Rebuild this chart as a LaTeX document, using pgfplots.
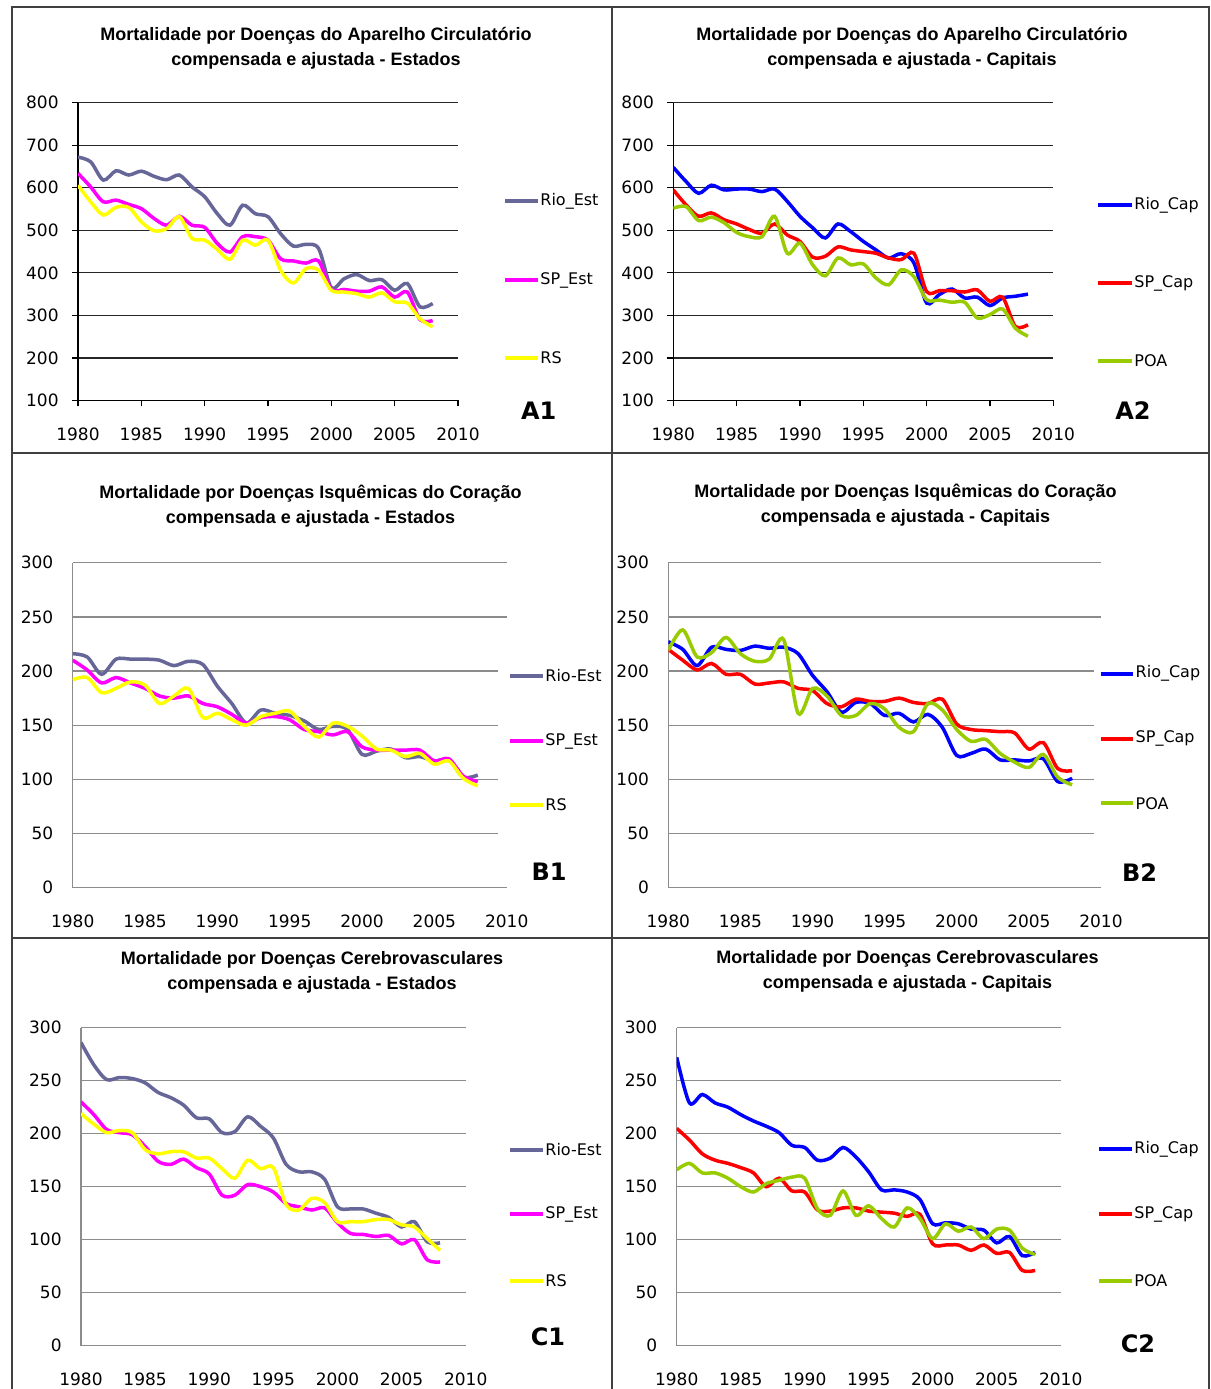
\documentclass[border=0pt]{standalone}
\usepackage{fontspec}
\setmainfont{DejaVu Sans}
\newfontfamily\titlefont{Liberation Sans}
\usepackage{pgfplots}
\usepackage{pgfplotstable}
\pgfplotsset{compat=1.18}

\definecolor{rioest}{RGB}{102,102,153}
\definecolor{spest}{RGB}{255,0,255}
\definecolor{rsyel}{RGB}{255,255,0}
\definecolor{riocap}{RGB}{0,0,255}
\definecolor{spcap}{RGB}{255,0,0}
\definecolor{poa}{RGB}{153,204,0}
\definecolor{frame}{RGB}{64,64,64}
\definecolor{gridB}{RGB}{140,140,140}

% year, Rio, SP, RS/POA
\pgfplotstableread{
year a b c
1980 672 634 606
1981 661 602 567
1982 618 567 536
1983 640 571 554
1984 630 561 554
1985 639 551 520
1986 627 528 499
1987 619 512 504
1988 630 533 532
1989 602 512 481
1990 579 507 477
1991 539 469 455
1992 512 449 432
1993 559 485 477
1994 539 485 465
1995 532 477 477
1996 492 433 406
1997 463 428 376
1998 467 423 410
1999 457 428 406
2000 365 361 359
2001 386 361 355
2002 396 357 351
2003 382 357 343
2004 384 367 353
2005 359 343 332
2006 375 355 329
2007 320 290 292
2008 328 288 273
}\dataAone

\pgfplotstableread{
year a b c
1980 648 595 552
1981 615 560 556
1982 587 533 523
1983 606 541 531
1984 595 525 518
1985 597 515 495
1986 597 502 485
1987 591 493 485
1988 597 515 533
1989 568 489 446
1990 533 474 470
1991 506 437 419
1992 482 439 393
1993 515 461 435
1994 497 454 419
1995 474 450 421
1996 454 446 388
1997 435 435 372
1998 445 431 407
1999 423 446 391
2000 329 356 337
2001 349 358 336
2002 362 358 331
2003 341 355 331
2004 343 360 294
2005 323 333 302
2006 341 343 315
2007 345 274 270
2008 350 278 251
}\dataAtwo

\pgfplotstableread{
year a b c
1980 216 210 192
1981 213 201 194
1982 197 189 180
1983 211 194 184
1984 211 189 190
1985 211 184 187
1986 210 177 170
1987 205 175 177
1988 209 177 184
1989 206 170 157
1990 186 167 161
1991 170 160 155
1992 152 152 150
1993 164 157 158
1994 161 158 161
1995 159 155 163
1996 154 146 149
1997 146 144 139
1998 149 141 152
1999 146 144 149
2000 123 130 140
2001 126 127 128
2002 128 127 127
2003 120 127 121
2004 121 127 124
2005 117 117 114
2006 118 119 117
2007 102 103 101
2008 104 98 94
}\dataBone

\pgfplotstableread{
year a b c
1980 227 220 219
1981 220 210 238
1982 205 201 213
1983 222 207 217
1984 220 197 231
1985 219 197 216
1986 223 188 209
1987 221 189 211
1988 222 190 229
1989 216 184 161
1990 196 182 184
1991 181 170 177
1992 162 167 159
1993 171 174 159
1994 170 172 170
1995 159 172 165
1996 161 175 148
1997 153 171 144
1998 160 170 170
1999 148 174 164
2000 122 151 146
2001 124 146 135
2002 128 145 137
2003 118 144 124
2004 118 143 116
2005 117 128 111
2006 119 134 123
2007 98 110 102
2008 101 108 95
}\dataBtwo

\pgfplotstableread{
year a b c
1980 286 230 219
1981 265 218 209
1982 251 204 201
1983 253 201 203
1984 252 199 201
1985 248 188 185
1986 239 174 181
1987 234 171 183
1988 227 176 183
1989 215 168 177
1990 214 162 177
1991 201 142 167
1992 202 142 158
1993 216 152 175
1994 207 150 167
1995 196 145 168
1996 171 134 133
1997 164 131 128
1998 164 128 139
1999 157 130 135
2000 131 116 117
2001 129 106 117
2002 129 105 117
2003 125 103 119
2004 121 104 119
2005 112 96 114
2006 117 100 112
2007 98 81 101
2008 97 79 90
}\dataCone

\pgfplotstableread{
year a b c
1980 272 205 166
1981 229 194 172
1982 237 181 163
1983 229 175 163
1984 225 172 158
1985 218 168 150
1986 212 163 145
1987 207 150 153
1988 201 158 156
1989 189 146 159
1990 187 145 158
1991 175 128 129
1992 177 127 123
1993 187 130 146
1994 178 130 123
1995 164 127 132
1996 147 126 120
1997 147 125 112
1998 145 122 130
1999 138 124 120
2000 115 96 101
2001 116 95 115
2002 115 95 108
2003 110 90 112
2004 109 95 101
2005 97 87 110
2006 103 88 109
2007 85 71 92
2008 88 71 86
}\dataCtwo

\pgfplotsset{
  panel/.style={
    scale only axis,
    axis x line*=bottom, axis y line*=left,
    xmin=1980, xmax=2010, xtick={1980,1985,...,2010},
    ymajorgrids,
    tick label style={font=\fontsize{8.5}{10}\selectfont,
      /pgf/number format/1000 sep=,
      /pgf/number format/assume math mode=true},
    x tick label style={anchor=north, inner sep=0pt, yshift=-13.5pt},
    y tick label style={anchor=east, inner sep=0pt, xshift=-9.5pt},
    every axis plot/.append style={line width=1.75pt, smooth, no markers},
  },
  panelA/.style={panel,
    width=190pt, height=148.9pt, ymin=100, ymax=800, ytick={100,200,...,800},
    axis line style={black, line width=0.6pt},
    major grid style={black!85, line width=0.6pt},
    tick align=outside, major tick length=3pt, tick style={black, line width=0.6pt},
    x tick label style={yshift=3pt},
    y tick label style={xshift=3pt},
  },
  panelBC/.style={panel,
    ymin=0, ymax=300, ytick={0,50,...,300},
    axis line style={gridB, line width=0.7pt},
    major grid style={gridB, line width=0.7pt},
    major tick length=0pt,
  },
}

\newcommand{\paneltitle}[4]{% x, y, line1, line2
  \node[align=center, font=\titlefont\bfseries\fontsize{9}{12.5}\selectfont] at (#1,#2) {#3\\#4};}
\newcommand{\legentry}[5]{% x0, x1, y, colour, text
  \draw[#4, line width=1.9pt] (#1,#3) -- (#2,#3);
  \node[anchor=west, inner sep=0pt, font=\fontsize{8}{10}\selectfont] at ([xshift=1pt]#2,#3) {#5};}
\newcommand{\panellabel}[3]{\node[font=\fontsize{12}{14}\selectfont\bfseries] at (#1,#2) {#3};}

\begin{document}
\begin{tikzpicture}
\useasboundingbox (0,0) rectangle (605.5pt,694.5pt);
\fill[white] (0,0) rectangle (605.5pt,694.5pt);

% ---------- A1
\begin{axis}[panelA, at={(39pt,494.25pt)}, anchor=south west]
\addplot[rioest] table[x=year,y=a] {\dataAone};
\addplot[spest] table[x=year,y=b] {\dataAone};
\addplot[rsyel] table[x=year,y=c] {\dataAone};
\end{axis}
\paneltitle{158pt}{670.25pt}{Mortalidade por Doenças do Aparelho Circulatório}{compensada e ajustada - Estados}
\legentry{252.5pt}{269pt}{594pt}{rioest}{Rio\_Est}
\legentry{252.5pt}{269pt}{554.5pt}{spest}{SP\_Est}
\legentry{252.5pt}{269pt}{515.5pt}{rsyel}{RS}
\panellabel{269.4pt}{489.15pt}{A1}

% ---------- A2
\begin{axis}[panelA, at={(336.65pt,494.25pt)}, anchor=south west]
\addplot[riocap] table[x=year,y=a] {\dataAtwo};
\addplot[spcap] table[x=year,y=b] {\dataAtwo};
\addplot[poa] table[x=year,y=c] {\dataAtwo};
\end{axis}
\paneltitle{456pt}{670.25pt}{Mortalidade por Doenças do Aparelho Circulatório}{compensada e ajustada - Capitais}
\legentry{549pt}{566pt}{592pt}{riocap}{Rio\_Cap}
\legentry{549pt}{566pt}{553pt}{spcap}{SP\_Cap}
\legentry{549pt}{566pt}{514pt}{poa}{POA}
\panellabel{566.5pt}{489pt}{A2}

% ---------- B1
\begin{axis}[panelBC, width=217pt, height=162.5pt, at={(36.35pt,250.65pt)}, anchor=south west]
\addplot[rioest] table[x=year,y=a] {\dataBone};
\addplot[spest] table[x=year,y=b] {\dataBone};
\addplot[rsyel] table[x=year,y=c] {\dataBone};
\end{axis}
\fill[white] (249pt,264.5pt) rectangle (304pt,374.5pt);
\paneltitle{155.25pt}{441.25pt}{Mortalidade por Doenças Isquêmicas do Coração}{compensada e ajustada - Estados}
\legentry{255pt}{271.5pt}{356.5pt}{rioest}{Rio-Est}
\legentry{255pt}{271.5pt}{324pt}{spest}{SP\_Est}
\legentry{255pt}{271.5pt}{292pt}{rsyel}{RS}
\panellabel{274.5pt}{258.5pt}{B1}

% ---------- B2
\begin{axis}[panelBC, width=216.35pt, height=162.5pt, at={(334.15pt,250.65pt)}, anchor=south west]
\addplot[riocap] table[x=year,y=a] {\dataBtwo};
\addplot[spcap] table[x=year,y=b] {\dataBtwo};
\addplot[poa] table[x=year,y=c] {\dataBtwo};
\end{axis}
\fill[white] (547pt,264.5pt) rectangle (603pt,374.5pt);
\paneltitle{452.75pt}{441.75pt}{Mortalidade por Doenças Isquêmicas do Coração}{compensada e ajustada - Capitais}
\legentry{550.35pt}{566.65pt}{357.65pt}{riocap}{Rio\_Cap}
\legentry{550.35pt}{566.65pt}{325.15pt}{spcap}{SP\_Cap}
\legentry{550.35pt}{566.65pt}{292.85pt}{poa}{POA}
\panellabel{569.75pt}{258.25pt}{B2}

% ---------- C1
\begin{axis}[panelBC, width=192.35pt, height=159pt, at={(40.5pt,21.65pt)}, anchor=south west]
\addplot[rioest] table[x=year,y=a] {\dataCone};
\addplot[spest] table[x=year,y=b] {\dataCone};
\addplot[rsyel] table[x=year,y=c] {\dataCone};
\end{axis}
\paneltitle{156pt}{208.25pt}{Mortalidade por Doenças Cerebrovasculares}{compensada e ajustada - Estados}
\legentry{255pt}{271.5pt}{119.5pt}{rioest}{Rio-Est}
\legentry{255pt}{271.5pt}{87.35pt}{spest}{SP\_Est}
\legentry{255pt}{271.5pt}{54.15pt}{rsyel}{RS}
\panellabel{274pt}{26pt}{C1}

% ---------- C2
\begin{axis}[panelBC, width=192pt, height=159pt, at={(338.35pt,21.65pt)}, anchor=south west]
\addplot[riocap] table[x=year,y=a] {\dataCtwo};
\addplot[spcap] table[x=year,y=b] {\dataCtwo};
\addplot[poa] table[x=year,y=c] {\dataCtwo};
\end{axis}
\paneltitle{453.75pt}{208.75pt}{Mortalidade por Doenças Cerebrovasculares}{compensada e ajustada - Capitais}
\legentry{549.5pt}{566pt}{119.85pt}{riocap}{Rio\_Cap}
\legentry{549.5pt}{566pt}{87.35pt}{spcap}{SP\_Cap}
\legentry{549.5pt}{566pt}{54.15pt}{poa}{POA}
\panellabel{569pt}{22.5pt}{C2}

% ---------- frame
\draw[frame, line width=1pt] (6pt,0pt) -- (6pt,691pt) -- (604.5pt,691pt) -- (604.5pt,0pt);
\draw[frame, line width=1pt] (305.85pt,0pt) -- (305.85pt,691pt);
\draw[frame, line width=1pt] (6pt,468.15pt) -- (604.5pt,468.15pt);
\draw[frame, line width=1pt] (6pt,225.5pt) -- (604.5pt,225.5pt);
\end{tikzpicture}
\end{document}
